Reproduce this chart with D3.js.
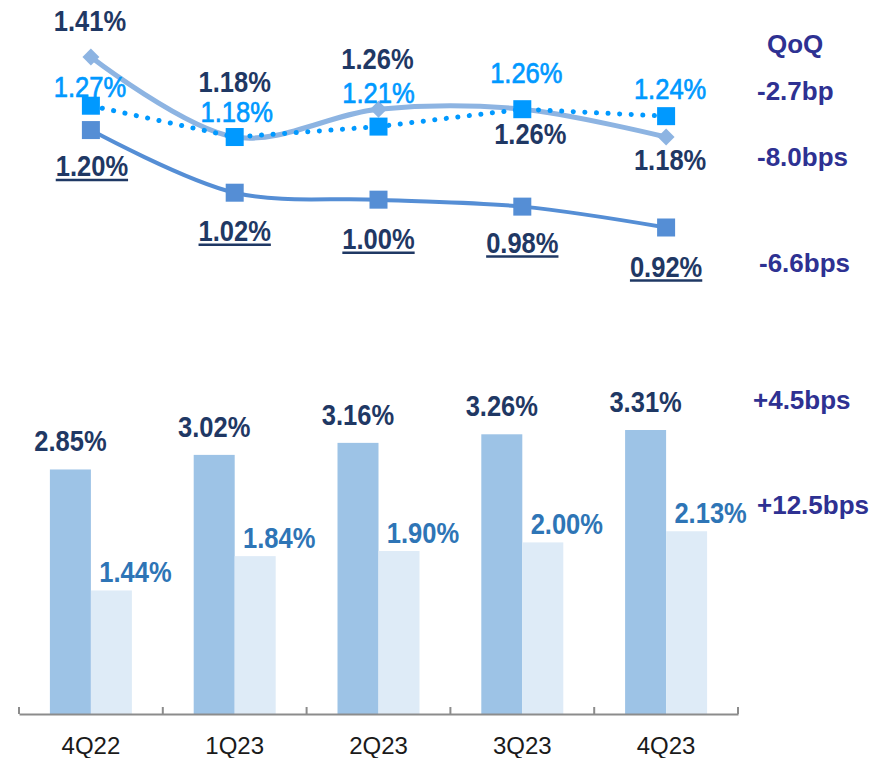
<!DOCTYPE html>
<html>
<head>
<meta charset="utf-8">
<script src="https://cdn.jsdelivr.net/npm/d3@7"></script>
<style>
  body { margin: 0; background: #fff; }
  svg text { font-family: "Liberation Sans", Arial, sans-serif; }
</style>
</head>
<body>
<div id="chart"></div>
<script>
var quarters = ["4Q22", "1Q23", "2Q23", "3Q23", "4Q23"];

// top panel (line series, %)
var lineA = [1.41, 1.18, 1.26, 1.26, 1.18];
var lineB = [1.27, 1.18, 1.21, 1.26, 1.24];
var lineC = [1.20, 1.02, 1.00, 0.98, 0.92];

// bottom panel (bar series, %)
var barDark = [2.85, 3.02, 3.16, 3.26, 3.31];
var barLight = [1.44, 1.84, 1.90, 2.00, 2.13];

var qoqTop = ["QoQ", "-2.7bp", "-8.0bps", "-6.6bps"];
var qoqBottom = ["+4.5bps", "+12.5bps"];

var svgWidth = 875;
var svgHeight = 758;

var navy = "#1f3864";
var indigo = "#2e3192";

var svg = d3.select("#chart")
  .append("svg")
  .attr("width", svgWidth)
  .attr("height", svgHeight);

var x = d3.scaleBand()
  .domain(quarters)
  .range([19, 738]);

function cx(i) { return x(quarters[i]) + x.bandwidth() / 2; }
function fmt(v) { return v.toFixed(2) + "%"; }

// value labels are a little condensed in the original
function label(parent, px, py, str, color, heavy) {
  var g = parent.append("g")
    .attr("transform", "translate(" + px + "," + py + ") scale(0.88,1)");
  var t = g.append("text")
    .attr("text-anchor", "middle")
    .attr("font-size", 29)
    .attr("font-weight", heavy ? "bold" : "normal")
    .attr("fill", color)
    .text(str);
  if (!heavy) t.attr("stroke", color).attr("stroke-width", 0.7);
  return g;
}

// ---- top: lines ----
var yLine = d3.scaleLinear()
  .domain([0.92, 1.41])
  .range([227.5, 57]);

function pts(vals) {
  return vals.map(function (v, i) { return [cx(i), yLine(v)]; });
}

var smooth = d3.line().curve(d3.curveCatmullRom.alpha(0.5));
var straight = d3.line();

var gTop = svg.append("g").attr("class", "lines");

gTop.append("path")
  .attr("d", smooth(pts(lineA)))
  .attr("fill", "none")
  .attr("stroke", "#8db4e2")
  .attr("stroke-width", 5);

gTop.selectAll(".diamond")
  .data(lineA)
  .enter()
  .append("rect")
  .attr("class", "diamond")
  .attr("x", -6).attr("y", -6)
  .attr("width", 12).attr("height", 12)
  .attr("fill", "#8db4e2")
  .attr("transform", function (d, i) {
    return "translate(" + cx(i) + "," + yLine(d) + ") rotate(45)";
  });

gTop.append("path")
  .attr("d", smooth(pts(lineC)))
  .attr("fill", "none")
  .attr("stroke", "#558ed5")
  .attr("stroke-width", 4);

gTop.selectAll(".sqC")
  .data(lineC)
  .enter()
  .append("rect")
  .attr("class", "sqC")
  .attr("x", function (d, i) { return cx(i) - 9; })
  .attr("y", function (d) { return yLine(d) - 9; })
  .attr("width", 18).attr("height", 18)
  .attr("fill", "#558ed5");

gTop.append("path")
  .attr("d", straight(pts(lineB)))
  .attr("fill", "none")
  .attr("stroke", "#0099ff")
  .attr("stroke-width", 5)
  .attr("stroke-linecap", "round")
  .attr("stroke-dasharray", "0.1 11.5");

gTop.selectAll(".sqB")
  .data(lineB)
  .enter()
  .append("rect")
  .attr("class", "sqB")
  .attr("x", function (d, i) { return cx(i) - 9; })
  .attr("y", function (d) { return yLine(d) - 9; })
  .attr("width", 18).attr("height", 18)
  .attr("fill", "#0099ff");

// label offsets (baseline relative to point)
var dyA = [-26, -45, -40, 35, 33], dxA = [-1, 0, -1, 8, 4];
var dyB = [-9, -15, -24, -26, -17], dxB = [-1, 2, 0, 4, 4];
var dyC = [46, 48, 49, 46, 49], dxC = [1, 0, 0, 0, 0];

lineA.forEach(function (v, i) {
  label(gTop, cx(i) + dxA[i], yLine(v) + dyA[i], fmt(v), navy, true);
});

lineB.forEach(function (v, i) {
  label(gTop, cx(i) + dxB[i], yLine(v) + dyB[i], fmt(v), "#0099ff", false);
});

lineC.forEach(function (v, i) {
  var g = label(gTop, cx(i) + dxC[i], yLine(v) + dyC[i], fmt(v), navy, true);
  var b = g.select("text").node().getBBox();
  g.append("line")
    .attr("x1", b.x).attr("x2", b.x + b.width)
    .attr("y1", 4).attr("y2", 4)
    .attr("stroke", navy)
    .attr("stroke-width", 2.5);
});

// ---- bottom: bars ----
var yBar = d3.scaleLinear()
  .domain([0, 4])
  .range([714, 714 - 4 * 85.8]);

var barW = 41;
var bars = svg.append("g").attr("class", "bars");

bars.selectAll(".barDark")
  .data(barDark)
  .enter()
  .append("rect")
  .attr("class", "barDark")
  .attr("x", function (d, i) { return cx(i) - barW; })
  .attr("y", function (d) { return yBar(d); })
  .attr("width", barW)
  .attr("height", function (d) { return yBar(0) - yBar(d); })
  .attr("fill", "#9dc3e6");

bars.selectAll(".barLight")
  .data(barLight)
  .enter()
  .append("rect")
  .attr("class", "barLight")
  .attr("x", function (d, i) { return cx(i); })
  .attr("y", function (d) { return yBar(d); })
  .attr("width", barW)
  .attr("height", function (d) { return yBar(0) - yBar(d); })
  .attr("fill", "#deebf7");

barDark.forEach(function (v, i) {
  label(bars, cx(i) - barW / 2, yBar(v) - 18, fmt(v), navy, true);
});

barLight.forEach(function (v, i) {
  label(bars, cx(i) + barW / 2 + 24, yBar(v) - 8, fmt(v), "#2e75b6", true);
});

// x axis
var axis = svg.append("g")
  .attr("transform", "translate(0,714)")
  .call(d3.axisBottom(x).tickSize(0).tickPadding(23));

axis.select(".domain")
  .attr("stroke", "#8c8c8c")
  .attr("stroke-width", 2);

axis.selectAll("text")
  .attr("font-size", 24)
  .attr("font-family", "Liberation Sans, Arial, sans-serif")
  .attr("fill", "#1a1a1a");

var bounds = quarters.map(function (q) { return x(q); }).concat([x.range()[1]]);
axis.selectAll(".bound")
  .data(bounds)
  .enter()
  .append("line")
  .attr("class", "bound")
  .attr("x1", function (d) { return d; })
  .attr("x2", function (d) { return d; })
  .attr("y1", -7).attr("y2", 0)
  .attr("stroke", "#8c8c8c")
  .attr("stroke-width", 2);

// QoQ column
var topPos = [[767, 53], [757, 100], [757, 166], [759, 272]];
var botPos = [[753, 409], [757, 514]];

svg.selectAll(".qoqTop")
  .data(qoqTop)
  .enter()
  .append("text")
  .attr("x", function (d, i) { return topPos[i][0]; })
  .attr("y", function (d, i) { return topPos[i][1]; })
  .attr("font-size", 26)
  .attr("font-weight", "bold")
  .attr("fill", indigo)
  .text(function (d) { return d; });

svg.selectAll(".qoqBot")
  .data(qoqBottom)
  .enter()
  .append("text")
  .attr("x", function (d, i) { return botPos[i][0]; })
  .attr("y", function (d, i) { return botPos[i][1]; })
  .attr("font-size", 26)
  .attr("font-weight", "bold")
  .attr("fill", indigo)
  .text(function (d) { return d; });
</script>
</body>
</html>
